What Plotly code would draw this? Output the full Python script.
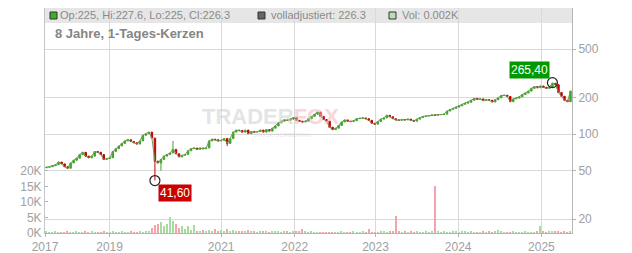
import plotly.graph_objects as go
import numpy as np

# ---------------- data ----------------
close = [
    53.5, 54, 55, 56, 59, 57, 54, 52.5, 58, 61, 63.5, 68, 71, 66, 64, 66, 72, 71, 68, 62, 63, 64,
    72, 76, 80, 84, 88, 90, 87, 85, 83, 88, 98, 101, 104, 93, 60,
    58, 62, 66, 68, 70, 75, 69, 65, 67, 68, 73, 76, 77, 75,
    77, 76, 77, 88, 91, 90, 88, 89, 92, 84, 92, 104, 108, 107, 104, 108, 101, 105, 104, 105,
    108, 104, 109, 106, 112, 117, 124, 128, 131, 130, 133, 137, 130, 128, 126, 128, 134, 140,
    146, 152, 140, 132, 128, 114, 109, 112, 118, 126, 131, 128, 127, 129, 134, 135, 136, 134,
    130, 123, 121, 127, 133, 136, 143, 139, 134, 131, 130, 132, 131, 133, 130, 128, 133, 137,
    140, 141, 142, 144, 143, 145, 145, 146, 155, 160, 163, 167, 171, 176, 180, 183, 190, 197,
    193, 195, 189, 192, 190, 184, 192, 199, 208, 209, 204, 185, 195, 198, 203, 212, 218, 226,
    238, 246, 241, 249, 243, 238, 245, 262, 255, 220, 205, 190, 185, 226.3,
]
first_open = 53.0

wick_low_idx = [36, 38, 60]
wick_low_val = [41.6, 50.0, 80.0]
wick_high_idx = [42, 168]
wick_high_val = [88.0, 265.4]

volume_k = [
    0.6, 0.3, 0.2, 0.4, 0.1, 0.3, 0.2, 0.5, 0.3, 0.2, 0.4, 0.3, 0.2, 0.5, 0.3, 0.4, 0.2, 0.3, 0.2, 0.4, 0.1, 0.3,
    0.8, 0.3, 0.2, 0.4, 0.3, 0.2, 0.5, 0.3, 0.2, 0.4, 0.3, 0.6, 0.8, 1.5, 2.6,
    3.0, 3.4, 2.2, 2.8, 5.1, 3.7, 2.8, 1.6, 2.2, 1.2, 2.3, 1.0, 2.7, 0.8,
    0.6, 0.9, 0.5, 1.1, 0.7, 1.2, 0.6, 0.9, 0.5, 1.3,
    0.7, 0.9, 0.6, 0.4, 0.8, 0.5, 1.0, 0.4, 0.6, 0.3,
    0.5, 0.4, 0.7, 0.3, 0.5, 0.4, 0.6, 0.3, 0.5, 0.4,
    0.3, 0.6, 0.4, 0.7, 1.4, 0.5, 0.3, 0.4, 0.2, 0.3,
    0.2, 0.1, 0.2, 0.3, 0.2, 0.1, 0.3, 0.4, 0.3, 0.2,
    0.3, 0.4, 0.2, 0.3, 0.5, 0.3, 1.3, 0.2, 0.3, 0.2,
    0.4, 0.6, 0.3, 0.5, 0.4, 5.5, 0.7, 0.3, 0.4, 0.3,
    0.5, 0.2, 0.4, 0.3, 0.2, 0.4, 0.3, 0.5, 15.2, 0.4,
    0.3, 0.5, 0.3, 0.2, 0.4, 0.6, 0.3, 0.4, 0.5, 0.3,
    0.4, 0.2, 0.3, 0.2, 0.4, 0.3, 0.5, 0.3, 0.4, 1.0,
    0.5, 0.3, 0.2, 0.3, 0.4, 0.2, 0.3, 0.2, 0.4, 0.3,
    0.2, 0.3, 0.4, 2.1, 0.4, 0.3, 0.5, 0.4, 0.6, 0.5,
    0.3, 0.4, 0.3, 0.4,
]

year_tick_pos = [-0.5, 20.94, 57.99, 82.42, 109.24, 136.69, 164.34]
year_tick_text = ["2017", "2019", "2021", "2022", "2023", "2024", "2025"]

price_ticks = [20, 50, 100, 200, 500]
vol_ticks = [0, 5, 10, 15, 20]
vol_tick_text = ["0K", "5K", "10K", "15K", "20K"]

header_ohlc = "Op:225, Hi:227.6, Lo:225, Cl:226.3"
header_adj = "volladjustiert: 226.3"
header_vol = "Vol: 0.002K"
title_text = "8 Jahre, 1-Tages-Kerzen"

# ---------------- build OHLC ----------------
n = len(close)
x = np.arange(n)
opens = [first_open] + close[:-1]
high = [max(o, c) for o, c in zip(opens, close)]
low = [min(o, c) for o, c in zip(opens, close)]
for i, v in zip(wick_low_idx, wick_low_val):
    low[i] = v
for i, v in zip(wick_high_idx, wick_high_val):
    high[i] = v

up = [c >= o for o, c in zip(opens, close)]
vol_colors = ["#a6dca0" if u else "#f2a3ab" for u in up]

i_min = int(np.argmin(low))
i_max = int(np.argmax(high))

GREEN = "#3fa626"
RED = "#c40000"
FONT = "Liberation Sans, Arial, sans-serif"
TXT = "#8a8a8a"
GRID = "#d9d9d9"

fig = go.Figure()

fig.add_trace(go.Bar(
    x=x, y=volume_k, yaxis="y2", marker=dict(color=vol_colors, line=dict(width=0)),
    width=0.45, hoverinfo="skip", showlegend=False,
))

# thin connecting line between candles (daily candles merge into a line in the reference)
fig.add_trace(go.Scatter(
    x=x, y=close, mode="lines", line=dict(color="#6f9a5a", width=1),
    showlegend=False, hoverinfo="skip",
))

fig.add_trace(go.Candlestick(
    x=x, open=opens, high=high, low=low, close=close,
    increasing=dict(line=dict(color=GREEN, width=1), fillcolor=GREEN),
    decreasing=dict(line=dict(color=RED, width=1), fillcolor=RED),
    whiskerwidth=0, showlegend=False, hoverinfo="skip",
))

fig.add_trace(go.Scatter(
    x=[i_min, i_max], y=[low[i_min], high[i_max]], mode="markers",
    marker=dict(symbol="circle-open", size=10, color="#222", line=dict(width=1.2)),
    showlegend=False, hoverinfo="skip",
))

# plot area in px: x 45..572, y 8..233
L, R, T, B = 45, 60, 8, 20
PW, PH = 632 - L - R, 253 - T - B


def px_x(p):
    return (p - L) / PW


def px_y(p):
    return (253 - B - p) / PH


annotations = [
    dict(x=i_min, y=np.log10(low[i_min]), xref="x", yref="y", text="41,60",
         showarrow=False, xanchor="left", yanchor="top", xshift=3, yshift=-3,
         font=dict(family=FONT, size=12, color="white"), bgcolor="#cc0000", borderpad=1),
    dict(x=i_max, y=np.log10(high[i_max]), xref="x", yref="y", text="265,40",
         showarrow=False, xanchor="right", yanchor="bottom", xshift=-2, yshift=4,
         font=dict(family=FONT, size=12, color="white"), bgcolor="#009a00", borderpad=1),
    dict(x=px_x(53), y=px_y(33.5), xref="paper", yref="paper", text="<b>" + title_text + "</b>",
         showarrow=False, xanchor="left", yanchor="middle",
         font=dict(family=FONT, size=13, color="#858585")),
    dict(x=px_x(58), y=px_y(15.5), xref="paper", yref="paper", text=header_ohlc,
         showarrow=False, xanchor="left", yanchor="middle",
         font=dict(family=FONT, size=11, color=TXT)),
    dict(x=px_x(269), y=px_y(15.5), xref="paper", yref="paper", text=header_adj,
         showarrow=False, xanchor="left", yanchor="middle",
         font=dict(family=FONT, size=11, color=TXT)),
    dict(x=px_x(400), y=px_y(15.5), xref="paper", yref="paper", text=header_vol,
         showarrow=False, xanchor="left", yanchor="middle",
         font=dict(family=FONT, size=11, color=TXT)),
    dict(x=px_x(270), y=px_y(116), xref="paper", yref="paper",
         text="<b>TRADER<span style='color:#f4b8be'>FOX</span></b>",
         showarrow=False, xanchor="center", yanchor="middle", opacity=0.55,
         font=dict(family=FONT, size=22, color="#cfcfcf")),
    dict(x=px_x(282), y=px_y(135), xref="paper", yref="paper",
         text="STOCK SCREENING",
         showarrow=False, xanchor="center", yanchor="middle", opacity=0.4,
         font=dict(family=FONT, size=6, color="#c8c8c8")),
]

shapes = [
    dict(type="rect", xref="paper", yref="paper", x0=0, x1=1, y0=px_y(23), y1=px_y(8),
         fillcolor="#e6e6e6", line=dict(width=0), layer="below"),
    dict(type="rect", xref="paper", yref="paper", x0=px_x(50), x1=px_x(57), y0=px_y(19), y1=px_y(12),
         fillcolor="#3fae2a", line=dict(width=1, color="#333")),
    dict(type="rect", xref="paper", yref="paper", x0=px_x(258), x1=px_x(265), y0=px_y(19), y1=px_y(12),
         fillcolor="#666666", line=dict(width=1, color="#333")),
    dict(type="rect", xref="paper", yref="paper", x0=px_x(389), x1=px_x(396), y0=px_y(19), y1=px_y(12),
         fillcolor="#b5e3b0", line=dict(width=1, color="#333")),
]

fig.update_layout(
    width=632, height=253,
    margin=dict(l=L, r=R, t=T, b=B, pad=0, autoexpand=False),
    paper_bgcolor="white", plot_bgcolor="white",
    showlegend=False,
    bargap=0,
    font=dict(family=FONT, size=12, color="#a0a0a0"),
    xaxis=dict(
        range=[-0.5, n - 0.5], tickmode="array", tickvals=year_tick_pos, ticktext=year_tick_text,
        showgrid=True, gridcolor=GRID, gridwidth=1, zeroline=False, automargin=False,
        showline=True, linecolor="#b5b5b5", ticks="outside", ticklen=3, tickcolor="#b5b5b5",
        tickfont=dict(family=FONT, size=12, color="#a0a0a0"),
        rangeslider=dict(visible=False), fixedrange=True,
    ),
    yaxis=dict(
        type="log", side="right", range=[1.1877, 3.0375], automargin=False,
        tickmode="array", tickvals=price_ticks, ticktext=[str(v) for v in price_ticks],
        showgrid=True, gridcolor=GRID, gridwidth=1, zeroline=False,
        showline=True, linecolor="#b5b5b5", ticks="outside", ticklen=3, tickcolor="#b5b5b5",
        tickfont=dict(family=FONT, size=12, color="#a0a0a0"),
    ),
    yaxis2=dict(
        overlaying="y", side="left", range=[0, 72.3], automargin=False,
        tickmode="array", tickvals=vol_ticks, ticktext=vol_tick_text,
        showgrid=False, zeroline=False,
        showline=True, linecolor="#c5c5c5", ticks="inside", ticklen=3, tickcolor="#b5b5b5",
        tickfont=dict(family=FONT, size=12, color="#a0a0a0"),
    ),
    annotations=annotations,
    shapes=shapes,
)

fig.write_html("out.html")
